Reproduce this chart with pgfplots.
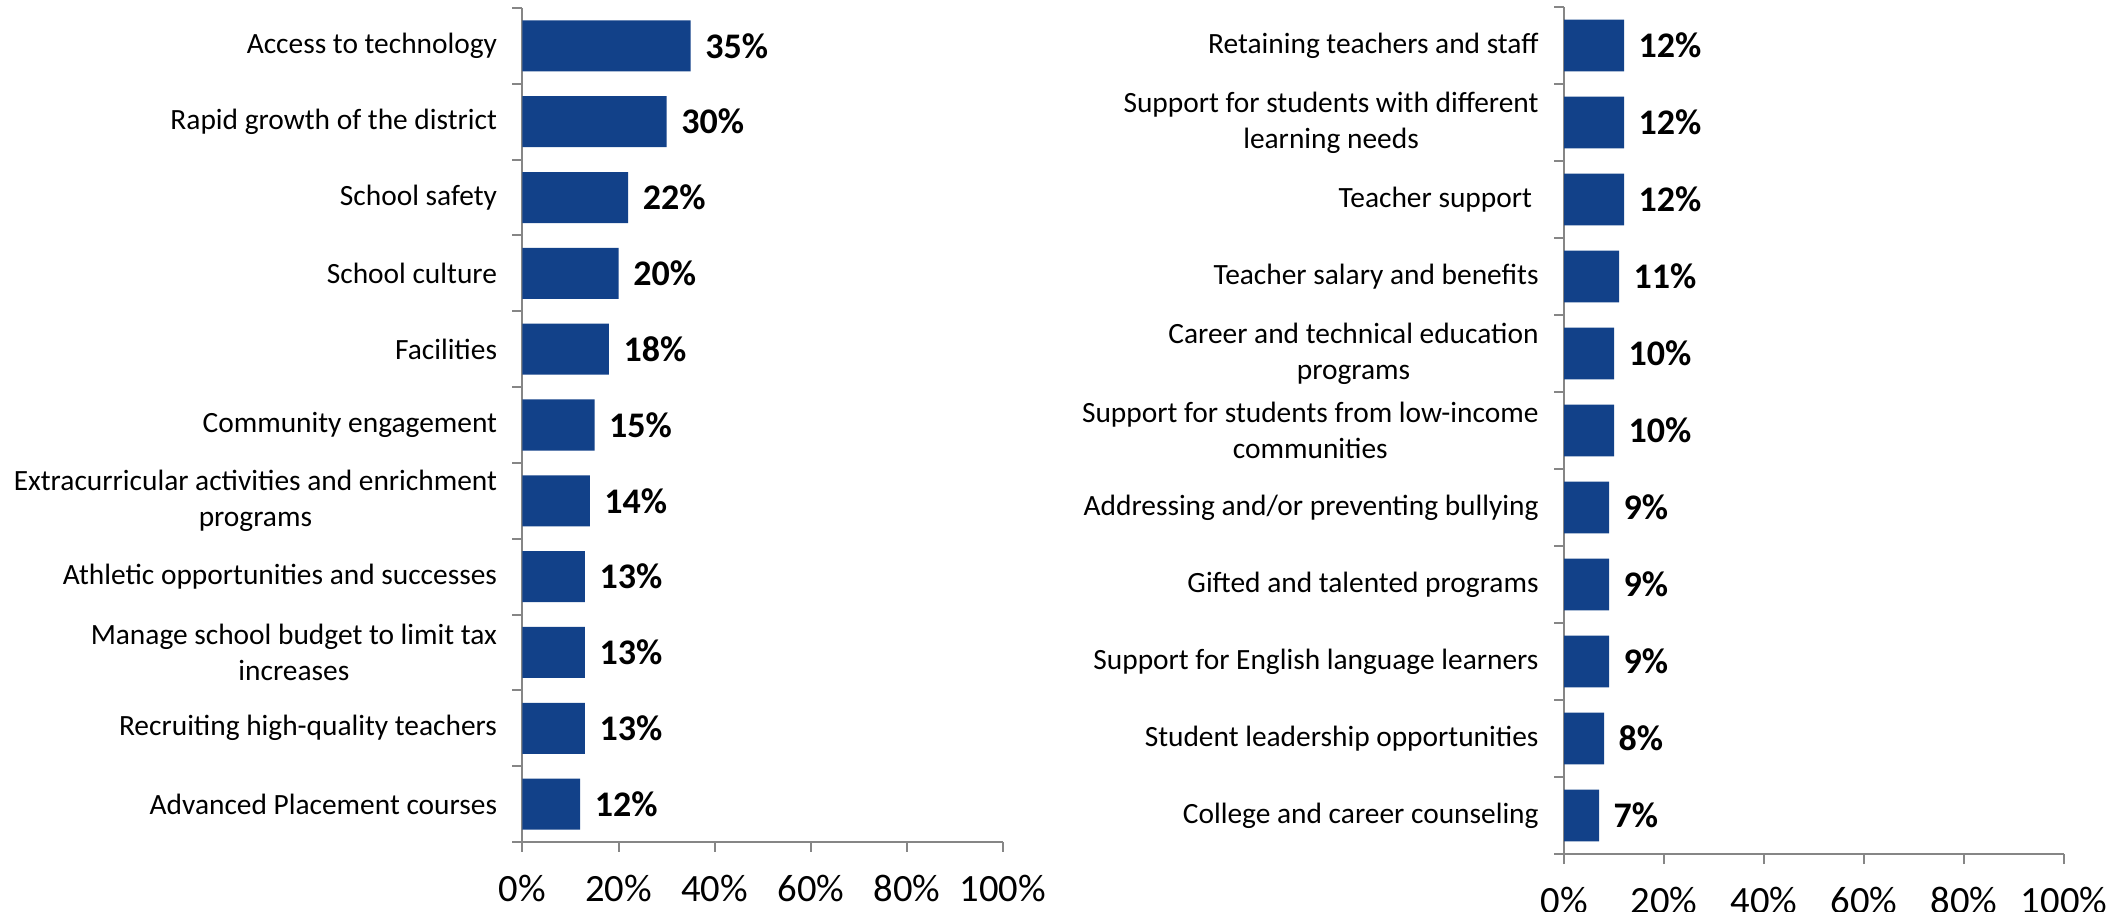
\documentclass[border=0pt]{standalone}
\usepackage{fontspec}
\setmainfont{Carlito}
\usepackage{pgfplots}
\pgfplotsset{compat=1.18}
\definecolor{barblue}{RGB}{18,65,137}
\definecolor{axgray}{RGB}{134,134,134}
\pgfplotsset{mybar/.style={
  xbar, scale only axis,
  xmin=0, xmax=100, ymin=-0.5, ymax=10.5,
  axis x line*=bottom, axis y line*=left,
  axis line style={axgray, line width=1pt, -},
  every tick/.style={axgray, line width=1pt},
  every major y tick/.append style={draw=none},
  xtick={0,20,...,100},
  xticklabel={\pgfmathprintnumber{\tick}\%},
  /pgf/number format/assume math mode=true,
  ytick={0,...,10},
  minor ytick={-0.5,0.5,...,10.5},
  tick align=outside,
  major tick length=5pt, minor tick length=5pt,
  xticklabel style={font=\fontsize{19.3}{22}\selectfont, yshift=-8pt},
  yticklabel style={font=\fontsize{14.7}{17.9}\selectfont, align=center, xshift=-4.2pt},
  bar shift=0pt,
  point meta=x,
  nodes near coords={\textbf{\pgfmathprintnumber{\pgfplotspointmeta}\%}},
  every node near coord/.append style={font=\fontsize{18}{21}\selectfont, black, xshift=3.8pt},
  clip=false,
}}
\begin{document}
\begin{tikzpicture}
\useasboundingbox (0,0) rectangle (1061pt,455.5pt);
\begin{axis}[mybar,
  at={(261.25pt,34.5pt)}, anchor=south west,
  width=240.25pt, height=417pt,
  bar width=0.673,
  yticklabels={
    {Advanced Placement courses},
    {Recruiting high-quality teachers},
    {Manage school budget to limit tax\\increases},
    {Athletic opportunities and successes},
    {Extracurricular activities and enrichment\\programs},
    {Community engagement},
    {Facilities},
    {School culture},
    {School safety},
    {Rapid growth of the district},
    {Access to technology}},
]
\addplot[fill=barblue, draw=none] coordinates {
  (35,10) (30,9) (22,8) (20,7) (18,6) (15,5) (14,4) (13,3) (13,2) (13,1) (12,0)};
\end{axis}
\begin{axis}[mybar,
  at={(782pt,28.5pt)}, anchor=south west,
  width=250pt, height=423.5pt,
  bar width=0.675,
  yticklabels={
    {College and career counseling},
    {Student leadership opportunities},
    {Support for English language learners},
    {Gifted and talented programs},
    {Addressing and/or preventing bullying},
    {Support for students from low-income\\communities},
    {Career and technical education\\programs},
    {Teacher salary and benefits},
    {Teacher support\hspace{3.3pt}},
    {Support for students with different\\learning needs},
    {Retaining teachers and staff}},
]
\addplot[fill=barblue, draw=none] coordinates {
  (12,10) (12,9) (12,8) (11,7) (10,6) (10,5) (9,4) (9,3) (9,2) (8,1) (7,0)};
\end{axis}
\end{tikzpicture}
\end{document}
